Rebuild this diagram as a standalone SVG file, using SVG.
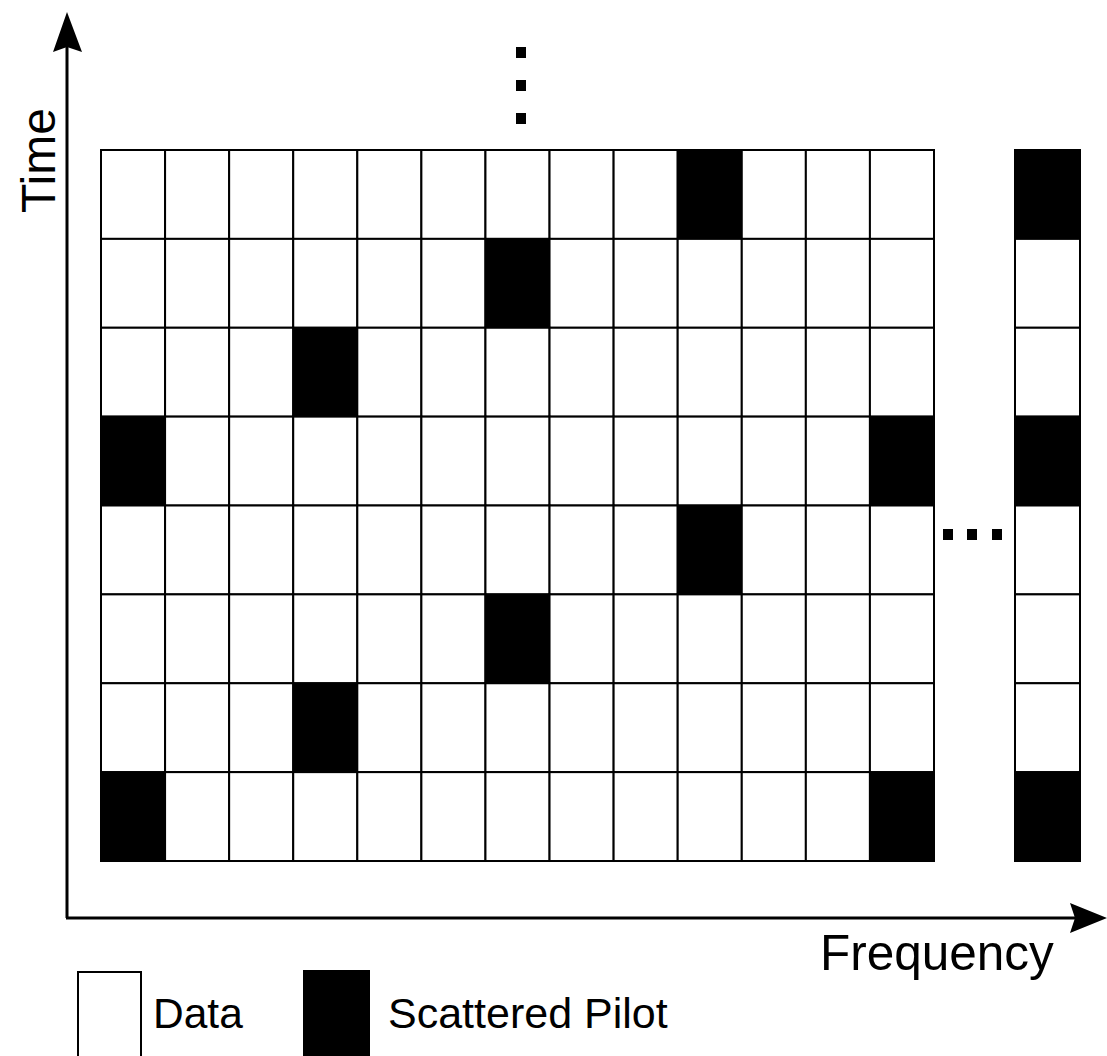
<svg xmlns="http://www.w3.org/2000/svg" width="1107" height="1056" viewBox="0 0 1107 1056">
<style>
.d{fill:#fff;stroke:#000;stroke-width:2}
.p{fill:#000;stroke:#000;stroke-width:2}
.ax{stroke:#000;stroke-width:3;fill:none}
.t{font-family:"Liberation Sans",Arial,sans-serif;fill:#000}
.dot{fill:#000}
</style>
<rect width="1107" height="1056" fill="#fff"/>
<g id="connectors">
<line class="ax" x1="67" y1="918" x2="67" y2="45"/>
<polygon points="67,12 82,52 67,47 53,52" fill="#000"/>
<line class="ax" x1="66" y1="918" x2="1075" y2="918"/>
<polygon points="1107,918 1070,933 1075,918 1070,903" fill="#000"/>
</g>
<g id="grid">
<g id="r0">
<rect class="d" x="101" y="150" width="64.08" height="88.88"/><rect class="d" x="165.08" y="150" width="64.08" height="88.88"/><rect class="d" x="229.15" y="150" width="64.08" height="88.88"/><rect class="d" x="293.23" y="150" width="64.08" height="88.88"/><rect class="d" x="357.31" y="150" width="64.08" height="88.88"/><rect class="d" x="421.38" y="150" width="64.08" height="88.88"/><rect class="d" x="485.46" y="150" width="64.08" height="88.88"/><rect class="d" x="549.54" y="150" width="64.08" height="88.88"/><rect class="d" x="613.62" y="150" width="64.08" height="88.88"/><rect class="p" x="677.69" y="150" width="64.08" height="88.88"/><rect class="d" x="741.77" y="150" width="64.08" height="88.88"/><rect class="d" x="805.85" y="150" width="64.08" height="88.88"/><rect class="d" x="869.92" y="150" width="64.08" height="88.88"/>
</g>
<g id="r1">
<rect class="d" x="101" y="238.88" width="64.08" height="88.88"/><rect class="d" x="165.08" y="238.88" width="64.08" height="88.88"/><rect class="d" x="229.15" y="238.88" width="64.08" height="88.88"/><rect class="d" x="293.23" y="238.88" width="64.08" height="88.88"/><rect class="d" x="357.31" y="238.88" width="64.08" height="88.88"/><rect class="d" x="421.38" y="238.88" width="64.08" height="88.88"/><rect class="p" x="485.46" y="238.88" width="64.08" height="88.88"/><rect class="d" x="549.54" y="238.88" width="64.08" height="88.88"/><rect class="d" x="613.62" y="238.88" width="64.08" height="88.88"/><rect class="d" x="677.69" y="238.88" width="64.08" height="88.88"/><rect class="d" x="741.77" y="238.88" width="64.08" height="88.88"/><rect class="d" x="805.85" y="238.88" width="64.08" height="88.88"/><rect class="d" x="869.92" y="238.88" width="64.08" height="88.88"/>
</g>
<g id="r2">
<rect class="d" x="101" y="327.75" width="64.08" height="88.88"/><rect class="d" x="165.08" y="327.75" width="64.08" height="88.88"/><rect class="d" x="229.15" y="327.75" width="64.08" height="88.88"/><rect class="p" x="293.23" y="327.75" width="64.08" height="88.88"/><rect class="d" x="357.31" y="327.75" width="64.08" height="88.88"/><rect class="d" x="421.38" y="327.75" width="64.08" height="88.88"/><rect class="d" x="485.46" y="327.75" width="64.08" height="88.88"/><rect class="d" x="549.54" y="327.75" width="64.08" height="88.88"/><rect class="d" x="613.62" y="327.75" width="64.08" height="88.88"/><rect class="d" x="677.69" y="327.75" width="64.08" height="88.88"/><rect class="d" x="741.77" y="327.75" width="64.08" height="88.88"/><rect class="d" x="805.85" y="327.75" width="64.08" height="88.88"/><rect class="d" x="869.92" y="327.75" width="64.08" height="88.88"/>
</g>
<g id="r3">
<rect class="p" x="101" y="416.63" width="64.08" height="88.88"/><rect class="d" x="165.08" y="416.63" width="64.08" height="88.88"/><rect class="d" x="229.15" y="416.63" width="64.08" height="88.88"/><rect class="d" x="293.23" y="416.63" width="64.08" height="88.88"/><rect class="d" x="357.31" y="416.63" width="64.08" height="88.88"/><rect class="d" x="421.38" y="416.63" width="64.08" height="88.88"/><rect class="d" x="485.46" y="416.63" width="64.08" height="88.88"/><rect class="d" x="549.54" y="416.63" width="64.08" height="88.88"/><rect class="d" x="613.62" y="416.63" width="64.08" height="88.88"/><rect class="d" x="677.69" y="416.63" width="64.08" height="88.88"/><rect class="d" x="741.77" y="416.63" width="64.08" height="88.88"/><rect class="d" x="805.85" y="416.63" width="64.08" height="88.88"/><rect class="p" x="869.92" y="416.63" width="64.08" height="88.88"/>
</g>
<g id="r4">
<rect class="d" x="101" y="505.5" width="64.08" height="88.88"/><rect class="d" x="165.08" y="505.5" width="64.08" height="88.88"/><rect class="d" x="229.15" y="505.5" width="64.08" height="88.88"/><rect class="d" x="293.23" y="505.5" width="64.08" height="88.88"/><rect class="d" x="357.31" y="505.5" width="64.08" height="88.88"/><rect class="d" x="421.38" y="505.5" width="64.08" height="88.88"/><rect class="d" x="485.46" y="505.5" width="64.08" height="88.88"/><rect class="d" x="549.54" y="505.5" width="64.08" height="88.88"/><rect class="d" x="613.62" y="505.5" width="64.08" height="88.88"/><rect class="p" x="677.69" y="505.5" width="64.08" height="88.88"/><rect class="d" x="741.77" y="505.5" width="64.08" height="88.88"/><rect class="d" x="805.85" y="505.5" width="64.08" height="88.88"/><rect class="d" x="869.92" y="505.5" width="64.08" height="88.88"/>
</g>
<g id="r5">
<rect class="d" x="101" y="594.38" width="64.08" height="88.88"/><rect class="d" x="165.08" y="594.38" width="64.08" height="88.88"/><rect class="d" x="229.15" y="594.38" width="64.08" height="88.88"/><rect class="d" x="293.23" y="594.38" width="64.08" height="88.88"/><rect class="d" x="357.31" y="594.38" width="64.08" height="88.88"/><rect class="d" x="421.38" y="594.38" width="64.08" height="88.88"/><rect class="p" x="485.46" y="594.38" width="64.08" height="88.88"/><rect class="d" x="549.54" y="594.38" width="64.08" height="88.88"/><rect class="d" x="613.62" y="594.38" width="64.08" height="88.88"/><rect class="d" x="677.69" y="594.38" width="64.08" height="88.88"/><rect class="d" x="741.77" y="594.38" width="64.08" height="88.88"/><rect class="d" x="805.85" y="594.38" width="64.08" height="88.88"/><rect class="d" x="869.92" y="594.38" width="64.08" height="88.88"/>
</g>
<g id="r6">
<rect class="d" x="101" y="683.25" width="64.08" height="88.88"/><rect class="d" x="165.08" y="683.25" width="64.08" height="88.88"/><rect class="d" x="229.15" y="683.25" width="64.08" height="88.88"/><rect class="p" x="293.23" y="683.25" width="64.08" height="88.88"/><rect class="d" x="357.31" y="683.25" width="64.08" height="88.88"/><rect class="d" x="421.38" y="683.25" width="64.08" height="88.88"/><rect class="d" x="485.46" y="683.25" width="64.08" height="88.88"/><rect class="d" x="549.54" y="683.25" width="64.08" height="88.88"/><rect class="d" x="613.62" y="683.25" width="64.08" height="88.88"/><rect class="d" x="677.69" y="683.25" width="64.08" height="88.88"/><rect class="d" x="741.77" y="683.25" width="64.08" height="88.88"/><rect class="d" x="805.85" y="683.25" width="64.08" height="88.88"/><rect class="d" x="869.92" y="683.25" width="64.08" height="88.88"/>
</g>
<g id="r7">
<rect class="p" x="101" y="772.13" width="64.08" height="88.88"/><rect class="d" x="165.08" y="772.13" width="64.08" height="88.88"/><rect class="d" x="229.15" y="772.13" width="64.08" height="88.88"/><rect class="d" x="293.23" y="772.13" width="64.08" height="88.88"/><rect class="d" x="357.31" y="772.13" width="64.08" height="88.88"/><rect class="d" x="421.38" y="772.13" width="64.08" height="88.88"/><rect class="d" x="485.46" y="772.13" width="64.08" height="88.88"/><rect class="d" x="549.54" y="772.13" width="64.08" height="88.88"/><rect class="d" x="613.62" y="772.13" width="64.08" height="88.88"/><rect class="d" x="677.69" y="772.13" width="64.08" height="88.88"/><rect class="d" x="741.77" y="772.13" width="64.08" height="88.88"/><rect class="d" x="805.85" y="772.13" width="64.08" height="88.88"/><rect class="p" x="869.92" y="772.13" width="64.08" height="88.88"/>
</g>
</g>
<g id="lastcol">
<rect class="p" x="1015" y="150" width="65" height="88.88"/>
<rect class="d" x="1015" y="238.88" width="65" height="88.88"/>
<rect class="d" x="1015" y="327.75" width="65" height="88.88"/>
<rect class="p" x="1015" y="416.63" width="65" height="88.88"/>
<rect class="d" x="1015" y="505.5" width="65" height="88.88"/>
<rect class="d" x="1015" y="594.38" width="65" height="88.88"/>
<rect class="d" x="1015" y="683.25" width="65" height="88.88"/>
<rect class="p" x="1015" y="772.13" width="65" height="88.88"/>
</g>
<g id="vdots">
<rect class="dot" x="516" y="47" width="10" height="11"/>
<rect class="dot" x="516" y="80" width="10" height="11"/>
<rect class="dot" x="516" y="113" width="10" height="11"/>
</g>
<g id="hdots">
<rect class="dot" x="943" y="529" width="10" height="11"/>
<rect class="dot" x="967" y="529" width="10" height="11"/>
<rect class="dot" x="992" y="529" width="10" height="11"/>
</g>
<g id="axis-labels">
<text class="t" font-size="48" transform="translate(55,213) rotate(-90)">Time</text>
<text class="t" font-size="49.5" x="820" y="970">Frequency</text>
</g>
<g id="legend-data">
<rect class="d" x="78" y="972" width="63" height="90"/>
<text class="t" font-size="42.5" x="153" y="1028">Data</text>
</g>
<g id="legend-pilot">
<rect class="p" x="304" y="971" width="65" height="90"/>
<text class="t" font-size="43" x="388" y="1028">Scattered Pilot</text>
</g>
</svg>
